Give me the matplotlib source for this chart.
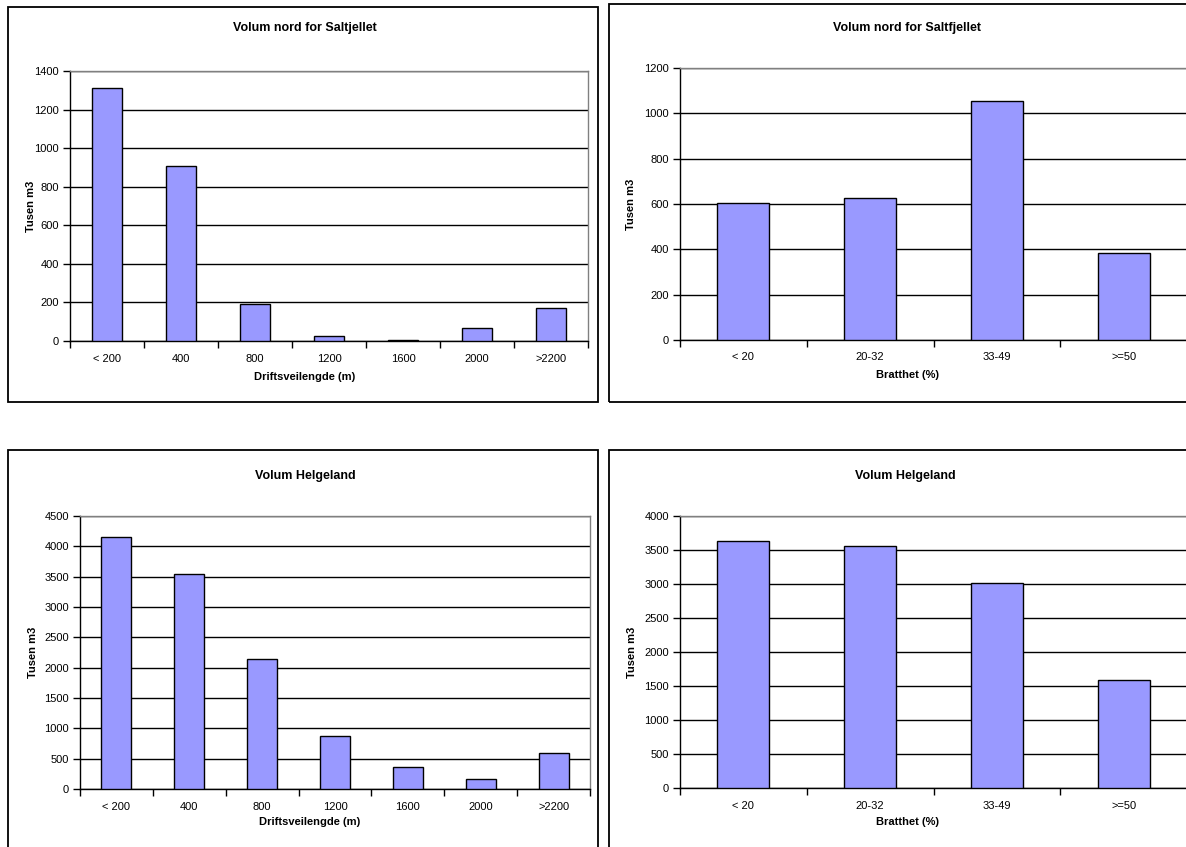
import matplotlib
matplotlib.use("Agg")
import matplotlib.pyplot as plt
from matplotlib.patches import Rectangle

plt.rcParams['font.family'] = ['Liberation Sans', 'DejaVu Sans']

# Data (tusen m3)
drift_categories = ["< 200", "400", "800", "1200", "1600", "2000", ">2200"]
drift_saltfjellet = [1310, 909, 194, 24, 5, 69, 170]
drift_helgeland = [4150, 3547, 2138, 866, 356, 164, 592]

bratt_categories = ["< 20", "20-32", "33-49", ">=50"]
bratt_saltfjellet = [605, 626, 1056, 384]
bratt_helgeland = [3633, 3560, 3017, 1589]

W, H = 1186, 847
fig = plt.figure(figsize=(W / 100, H / 100), dpi=100)
fig.patch.set_facecolor("white")

BAR_COLOR = "#9999FF"


def px_rect(l, t, r, b):
    return [l / W, 1 - b / H, (r - l) / W, (b - t) / H]


def frame(l, t, r, b):
    fig.patches.append(Rectangle((l / W, 1 - b / H), (r - l) / W, (b - t) / H,
                                 transform=fig.transFigure, fill=False,
                                 edgecolor="black", linewidth=1.3, zorder=0))


def bar_panel(rect, cats, vals, ymax, ystep, title, xlabel, title_xy,
              xlabel_xy, ylabel_xy):
    ax = fig.add_axes(px_rect(*rect))
    n = len(cats)
    x = list(range(n))
    ax.bar(x, vals, width=0.41, color=BAR_COLOR, edgecolor="black",
           linewidth=1.0, zorder=3)
    ax.set_xlim(-0.5, n - 0.5)
    ax.set_ylim(0, ymax)
    ax.set_yticks(list(range(0, ymax + 1, ystep)))
    ax.yaxis.grid(True, color="black", linewidth=1.0, zorder=1)
    ax.set_axisbelow(True)
    # Category boundary ticks, labels at category centres
    ax.set_xticks([i - 0.5 for i in range(n + 1)])
    ax.set_xticklabels([])
    ax.set_xticks(x, minor=True)
    ax.set_xticklabels(cats, minor=True)
    ax.tick_params(axis="x", which="major", length=5, width=1, direction="out")
    ax.tick_params(axis="x", which="minor", length=0, pad=9, labelsize=8)
    ax.tick_params(axis="y", length=5, width=1, direction="out", pad=3,
                   labelsize=8)
    for s in ("left", "bottom"):
        ax.spines[s].set_color("black")
        ax.spines[s].set_linewidth(1.0)
    for s in ("top", "right"):
        ax.spines[s].set_color("#808080")
        ax.spines[s].set_linewidth(1.0)
    fig.text(title_xy[0] / W, 1 - title_xy[1] / H, title, ha="center",
             va="center", fontsize=9, fontweight="bold")
    fig.text(xlabel_xy[0] / W, 1 - xlabel_xy[1] / H, xlabel, ha="center",
             va="center", fontsize=8, fontweight="bold")
    fig.text(ylabel_xy[0] / W, 1 - ylabel_xy[1] / H, "Tusen m3", ha="center",
             va="center", fontsize=8, fontweight="bold", rotation=90)
    return ax


# Outer chart frames
frame(8, 7, 598, 402)
frame(609, 4, 1192, 402)
frame(8, 450, 598, 852)
frame(609, 450, 1192, 852)

bar_panel((70, 71, 588, 341), drift_categories, drift_saltfjellet, 1400, 200,
          "Volum nord for Saltjellet", "Driftsveilengde (m)",
          (305, 28), (305, 377), (31, 206))
bar_panel((680, 68, 1187, 340), bratt_categories, bratt_saltfjellet, 1200, 200,
          "Volum nord for Saltfjellet", "Bratthet (%)",
          (907, 28), (907, 375), (631, 204))
bar_panel((80, 516, 590, 789), drift_categories, drift_helgeland, 4500, 500,
          "Volum Helgeland", "Driftsveilengde (m)",
          (305, 476), (310, 822), (33, 652))
bar_panel((680, 516, 1187, 788), bratt_categories, bratt_helgeland, 4000, 500,
          "Volum Helgeland", "Bratthet (%)",
          (905, 476), (907, 822), (632, 652))

fig.savefig("out.png", dpi=100, facecolor="white")
